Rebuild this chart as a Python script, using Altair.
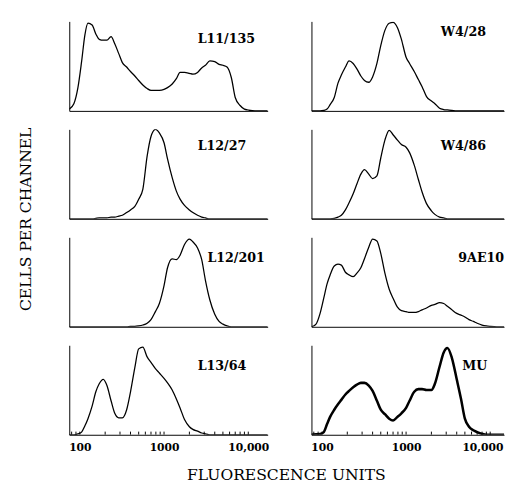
import altair as alt
import pandas as pd

# shared fluorescence channels (x)
fluor = [75, 85, 95, 105, 115, 125, 140, 155, 170, 190, 210, 235, 260, 290, 320, 360,
         400, 450, 500, 560, 630, 700, 790, 880, 1000, 1100, 1250, 1400, 1550, 1750,
         2000, 2200, 2500, 2800, 3100, 3500, 4000, 4500, 5000, 5600, 6300, 7000, 8000,
         9000, 10000, 12000, 14000, 17000]

# cells per channel (relative), one list per antibody
L11_135 = [2, 8, 26, 55, 85, 98, 96, 86, 80, 79, 79, 83, 75, 64, 54, 49, 44, 39, 34, 29,
           25, 23, 23, 23, 24, 26, 30, 36, 43, 43, 42, 41, 43, 48, 51, 56, 55, 52, 51, 49,
           37, 15, 6, 2, 1, 0, 0, 0]
L12_27 = [0, 0, 0, 0, 0, 0, 0, 0.5, 1, 1, 1, 2, 2, 3, 4, 7, 10, 14, 22, 33,
          70, 92, 100, 96, 85, 67, 46, 31, 22, 15, 10, 7, 4, 2, 1, 0, 0, 0, 0, 0,
          0, 0, 0, 0, 0, 0, 0, 0]
L12_201 = [0, 0, 0, 0, 0, 0, 0, 0, 0, 0, 0, 0, 0, 0, 0, 0, 0.5, 0.5, 1, 2,
           4, 8, 17, 26, 46, 66, 76, 75, 80, 92, 98, 95, 88, 75, 52, 30, 14, 6, 3, 1,
           0, 0, 0, 0, 0, 0, 0, 0]
L13_64 = [0, 0, 1, 3, 10, 18, 32, 48, 57, 62, 55, 38, 24, 19, 19, 28, 48, 75, 96, 98,
          87, 81, 74, 69, 63, 58, 50, 40, 30, 17, 9, 6, 4, 2, 1, 0, 0, 0, 0, 0,
          0, 0, 0, 0, 0, 0, 0, 0]
W4_28 = [0, 0, 0, 0.5, 2, 7, 15, 31, 40, 49, 56, 53, 47, 39, 34, 32, 38, 53, 73, 90,
         98, 99, 93, 80, 60, 53, 44, 35, 27, 16, 11, 8, 3, 1.5, 1, 0.5, 0, 0, 0, 0,
         0, 0, 0, 0, 0, 0, 0, 0]
W4_86 = [0, 0, 0, 0, 0, 0, 0.5, 2, 4, 10, 18, 28, 39, 50, 55, 50, 45, 48, 68, 88,
         99, 94, 88, 83, 80, 74, 60, 44, 30, 17, 9, 5, 2, 1, 0, 0, 0, 0, 0, 0,
         0, 0, 0, 0, 0, 0, 0, 0]
AE10 = [0, 3, 15, 32, 48, 58, 68, 70, 69, 61, 58, 56, 60, 66, 76, 89, 98, 96, 82, 60,
        42, 32, 22, 18, 17, 16, 16, 17, 19, 21, 24, 25, 27, 26, 23, 19, 15, 13, 11, 8,
        6, 4, 2, 1, 0.5, 0, 0, 0]
MU = [0, 0.5, 1, 3, 12, 20, 28, 34, 39, 45, 49, 53, 56, 58, 58, 55, 49, 38, 28, 23,
      18, 16, 20, 24, 30, 38, 48, 51, 51, 50, 50, 57, 76, 92, 97, 86, 62, 40, 18, 9,
      5, 3, 1, 0, 0, 0, 0, 0]

tick_values = [100, 1000, 10000]
tick_labels = ["100", "1000", "10,000"]
minor_ticks = [80, 90, 100, 200, 300, 400, 500, 600, 700, 800, 900, 1000,
               2000, 3000, 4000, 5000, 6000, 7000, 8000, 9000, 10000]

X_MIN = 75
X_MAX_L = 17000
X_MAX_R = 14600
SERIF = "DejaVu Serif"

label_expr = " : ".join(f"datum.value == {v} ? '{l}'" for v, l in zip(tick_values, tick_labels)) + " : ''"


def panel(values, label, lx, ly, width, xmax, bottom=False, thick=False, right=False):
    df = pd.DataFrame({"x": fluor, "y": values})
    xscale = alt.Scale(type="log", domain=[X_MIN, xmax], nice=False)
    if bottom:
        extra = {}
        if right:
            extra = dict(
                labelAlign={"condition": {"test": "datum.value == 10000", "value": "right"}, "value": "center"},
                labelOffset={"condition": {"test": "datum.value == 10000", "value": 13}, "value": 0},
            )
        xaxis = alt.Axis(values=tick_values, labelExpr=label_expr, ticks=False, grid=False,
                         title=None, labelPadding=7, labelFont=SERIF, labelFontSize=11,
                         labelFontWeight="bold", labelColor="black", domainColor="black",
                         labelFlush=False, labelOverlap=False, **extra)
    else:
        xaxis = alt.Axis(labels=False, ticks=False, grid=False, title=None, domainColor="black")
    yaxis = alt.Axis(labels=False, ticks=False, grid=False, title=None, domainColor="black")
    line = alt.Chart(df).mark_line(
        color="black", strokeWidth=2.6 if thick else 1.3, interpolate="monotone", clip=True
    ).encode(
        x=alt.X("x:Q", scale=xscale, axis=xaxis),
        y=alt.Y("y:Q", scale=alt.Scale(domain=[0, 100], nice=False), axis=yaxis),
    )
    text = alt.Chart(pd.DataFrame({"t": [label]})).mark_text(
        align="left", baseline="middle", font=SERIF, fontSize=13, fontWeight="bold", color="black"
    ).encode(x=alt.value(lx), y=alt.value(ly), text="t:N")
    layers = [line, text]
    if bottom:
        tk = alt.Chart(pd.DataFrame({"x": minor_ticks})).mark_rule(
            color="black", strokeWidth=1, clip=True
        ).encode(x=alt.X("x:Q"), y=alt.datum(0), y2=alt.datum(3.5))
        layers.append(tk)
    return alt.layer(*layers).properties(width=width, height=92)


left = alt.vconcat(
    panel(L11_135, "L11/135", 132, 18, 204, X_MAX_L),
    panel(L12_27, "L12/27", 132, 17, 204, X_MAX_L),
    panel(L12_201, "L12/201", 142, 21, 204, X_MAX_L),
    panel(L13_64, "L13/64", 132, 21, 204, X_MAX_L, bottom=True),
    spacing=19,
)
right = alt.vconcat(
    panel(W4_28, "W4/28", 133, 11, 198, X_MAX_R),
    panel(W4_86, "W4/86", 133, 17, 198, X_MAX_R),
    panel(AE10, "9AE10", 151, 21, 198, X_MAX_R),
    panel(MU, "MU", 155, 21, 198, X_MAX_R, bottom=True, thick=True, right=True),
    spacing=19,
)

inner = alt.hconcat(left, right, spacing=42).properties(
    title=alt.TitleParams("FLUORESCENCE UNITS", orient="bottom", anchor="middle", font=SERIF,
                          fontSize=16, fontWeight="normal", color="black", offset=16)
)

chart = alt.vconcat(inner).properties(
    title=alt.TitleParams("CELLS PER CHANNEL", orient="left", anchor="middle", font=SERIF,
                          fontSize=16, fontWeight="normal", color="black", offset=36, dx=34),
    padding={"left": 10, "top": 7, "right": 0, "bottom": 0},
).configure_view(strokeWidth=0)

chart.save("out.html", embed_options={"renderer": "svg", "actions": False})
